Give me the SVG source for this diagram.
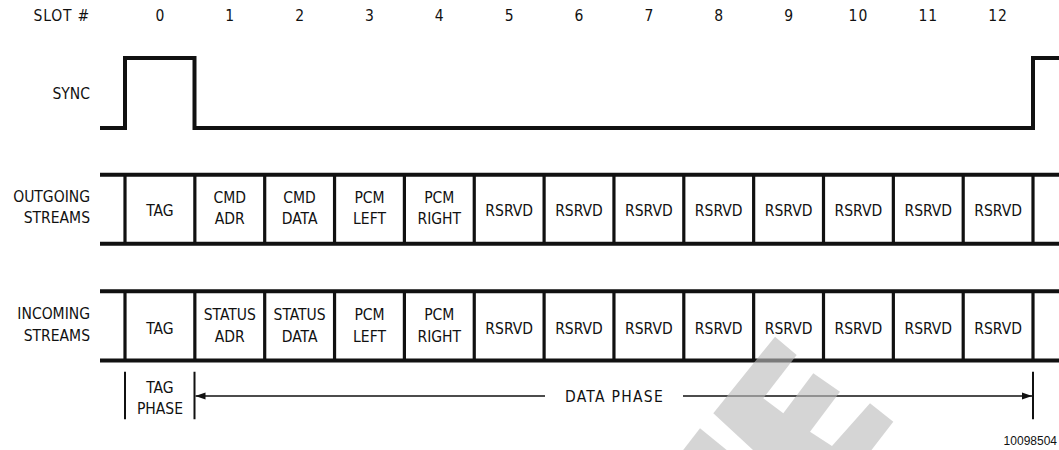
<svg xmlns="http://www.w3.org/2000/svg" width="1059" height="450" viewBox="0 0 1059 450">
<style>
.t{font-family:"DejaVu Sans Condensed","DejaVu Sans","Liberation Sans",sans-serif;font-stretch:condensed;font-size:15.5px;fill:#111}
.c{text-anchor:middle}
.r{text-anchor:end}
.bar{stroke:#111;stroke-width:4;fill:none}
.div{stroke:#111;stroke-width:3.2}
.thin{stroke:#111;stroke-width:1.5;fill:none}
.tick{stroke:#111;stroke-width:2}
</style>
<defs>
<marker id="ah" viewBox="0 0 10 8" refX="10" refY="4" markerWidth="10" markerHeight="8" markerUnits="userSpaceOnUse" orient="auto-start-reverse">
<path d="M0,0.5 L10,4 L0,7.5 Z" fill="#111"/>
</marker>
</defs>
<rect width="1059" height="450" fill="#fff"/>

<g id="header">
<text class="t r" x="90" y="21" letter-spacing="0.8">SLOT #</text>
<text class="t c" x="160" y="21">0</text>
<text class="t c" x="229.8" y="21">1</text>
<text class="t c" x="299.6" y="21">2</text>
<text class="t c" x="369.5" y="21">3</text>
<text class="t c" x="439.3" y="21">4</text>
<text class="t c" x="509.2" y="21">5</text>
<text class="t c" x="579" y="21">6</text>
<text class="t c" x="648.9" y="21">7</text>
<text class="t c" x="718.7" y="21">8</text>
<text class="t c" x="788.6" y="21">9</text>
<text class="t c" x="858.4" y="21" letter-spacing="1">10</text>
<text class="t c" x="928.3" y="21" letter-spacing="1">11</text>
<text class="t c" x="998.1" y="21" letter-spacing="1">12</text>
</g>

<g id="sync">
<text class="t r" x="90" y="98.5">SYNC</text>
<path class="bar" d="M100,128 H125 V58 H194.5 V128 H1033 V58 H1059"/>
</g>

<g id="outgoing">
<text class="t r" x="90" y="201.7">OUTGOING</text>
<text class="t r" x="90" y="223.3">STREAMS</text>
<path class="bar" d="M100,174.7 H1059 M100,243.8 H1059"/>
<path class="div" d="M125,175 V244 M194.85,175 V244 M264.7,175 V244 M334.55,175 V244 M404.4,175 V244 M474.25,175 V244 M544.1,175 V244 M613.95,175 V244 M683.8,175 V244 M753.65,175 V244 M823.5,175 V244 M893.35,175 V244 M963.2,175 V244 M1033,175 V244"/>
</g>
<g id="out-0"><text class="t c" x="160" y="216">TAG</text></g>
<g id="out-1"><text class="t c" x="229.8" y="203.3">CMD</text><text class="t c" x="229.8" y="224">ADR</text></g>
<g id="out-2"><text class="t c" x="299.6" y="203.3">CMD</text><text class="t c" x="299.6" y="224">DATA</text></g>
<g id="out-3"><text class="t c" x="369.5" y="203.3">PCM</text><text class="t c" x="369.5" y="224">LEFT</text></g>
<g id="out-4"><text class="t c" x="439.3" y="203.3">PCM</text><text class="t c" x="439.3" y="224">RIGHT</text></g>
<g id="out-5"><text class="t c" x="509.2" y="216">RSRVD</text></g>
<g id="out-6"><text class="t c" x="579" y="216">RSRVD</text></g>
<g id="out-7"><text class="t c" x="648.9" y="216">RSRVD</text></g>
<g id="out-8"><text class="t c" x="718.7" y="216">RSRVD</text></g>
<g id="out-9"><text class="t c" x="788.6" y="216">RSRVD</text></g>
<g id="out-10"><text class="t c" x="858.4" y="216">RSRVD</text></g>
<g id="out-11"><text class="t c" x="928.3" y="216">RSRVD</text></g>
<g id="out-12"><text class="t c" x="998.1" y="216">RSRVD</text></g>

<g id="incoming">
<text class="t r" x="90" y="319.3">INCOMING</text>
<text class="t r" x="90" y="341">STREAMS</text>
<path class="bar" d="M100,291.2 H1059 M100,360.5 H1059"/>
<path class="div" d="M125,291 V361 M194.85,291 V361 M264.7,291 V361 M334.55,291 V361 M404.4,291 V361 M474.25,291 V361 M544.1,291 V361 M613.95,291 V361 M683.8,291 V361 M753.65,291 V361 M823.5,291 V361 M893.35,291 V361 M963.2,291 V361 M1033,291 V361"/>
</g>
<g id="in-0"><text class="t c" x="160" y="333.5">TAG</text></g>
<g id="in-1"><text class="t c" x="229.8" y="320">STATUS</text><text class="t c" x="229.8" y="341.5">ADR</text></g>
<g id="in-2"><text class="t c" x="299.6" y="320">STATUS</text><text class="t c" x="299.6" y="341.5">DATA</text></g>
<g id="in-3"><text class="t c" x="369.5" y="320">PCM</text><text class="t c" x="369.5" y="341.5">LEFT</text></g>
<g id="in-4"><text class="t c" x="439.3" y="320">PCM</text><text class="t c" x="439.3" y="341.5">RIGHT</text></g>
<g id="in-5"><text class="t c" x="509.2" y="333.5">RSRVD</text></g>
<g id="in-6"><text class="t c" x="579" y="333.5">RSRVD</text></g>
<g id="in-7"><text class="t c" x="648.9" y="333.5">RSRVD</text></g>
<g id="in-8"><text class="t c" x="718.7" y="333.5">RSRVD</text></g>
<g id="in-9"><text class="t c" x="788.6" y="333.5">RSRVD</text></g>
<g id="in-10"><text class="t c" x="858.4" y="333.5">RSRVD</text></g>
<g id="in-11"><text class="t c" x="928.3" y="333.5">RSRVD</text></g>
<g id="in-12"><text class="t c" x="998.1" y="333.5">RSRVD</text></g>

<g id="tag-phase">
<text class="t c" x="160" y="392.7">TAG</text>
<text class="t c" x="160" y="414">PHASE</text>
</g>
<g id="data-phase">
<text class="t c" x="614.5" y="402" letter-spacing="1.3">DATA PHASE</text>
</g>

<g id="connectors">
<path class="tick" d="M125,371.7 V419.3 M194.5,371.7 V419.3 M1033,371.7 V419.3"/>
<path class="thin" d="M545,396 H195.5" marker-end="url(#ah)"/>
<path class="thin" d="M683,396 H1032" marker-end="url(#ah)"/>
</g>

<text x="1057" y="445" text-anchor="end" style="font-family:'Liberation Sans',Arial,sans-serif;font-size:12px;fill:#111">10098504</text>

<g id="watermark" fill="#bbbbbb" fill-opacity="0.62">
<polygon points="775,336.7 796.7,355 763.3,398.3 783.3,413.3 813.3,373.3 840,391.7 810,431.7 832,446 870,403.3 893.3,421.7 871.5,450 753,450 713.3,413.3"/>
<polygon points="700,428.3 726.7,450 683.2,450"/>
</g>
</svg>
